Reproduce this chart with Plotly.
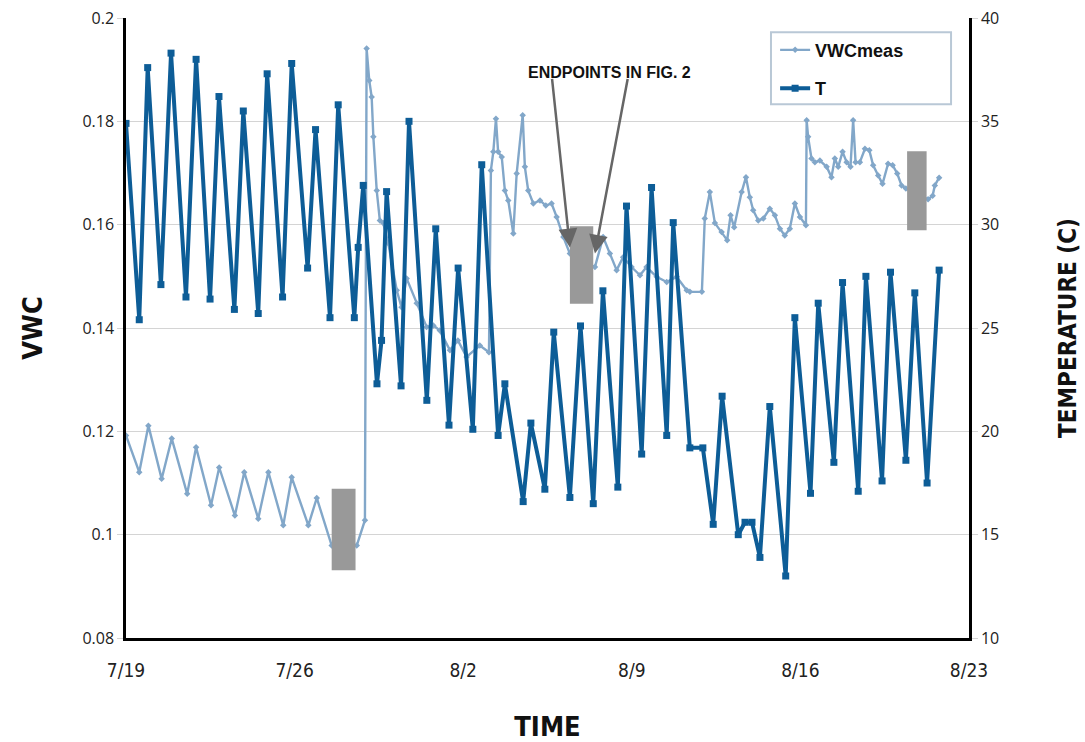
import pandas as pd
import plotly.graph_objects as go

# ---------------- data ----------------
base_date = pd.Timestamp("2014-07-19")

# Temperature series: day offset from 7/19 00:00, temperature (C)
t_day = [0.00, 0.55, 0.90, 1.45, 1.87, 2.49, 2.91, 3.49, 3.86, 4.50, 4.87, 5.49,
         5.86, 6.50, 6.88, 7.54, 7.87, 8.47, 8.81, 9.48, 9.64, 9.85, 10.42, 10.61,
         10.82, 11.42, 11.75, 12.49, 12.86, 13.41, 13.79, 14.40, 14.77, 15.45, 15.73,
         16.49, 16.81, 17.39, 17.76, 18.43, 18.87, 19.40, 19.80, 20.42, 20.78, 21.41,
         21.82, 22.45, 22.72, 23.41, 23.95, 24.38, 24.75, 25.42, 25.70, 25.99, 26.32,
         26.73, 27.39, 27.77, 28.42, 28.74, 29.39, 29.75, 30.40, 30.72, 31.39, 31.74,
         32.38, 32.75, 33.26, 33.76]
t_temp = [34.9, 25.4, 37.6, 27.1, 38.3, 26.5, 38.0, 26.4, 36.2, 25.9, 35.5, 25.7,
          37.3, 26.5, 37.8, 27.9, 34.6, 25.5, 35.8, 25.5, 28.9, 31.9, 22.3, 24.4,
          31.6, 22.2, 35.0, 21.5, 29.8, 20.3, 27.9, 20.1, 32.9, 19.8, 22.3,
          16.6, 20.4, 17.2, 24.8, 16.8, 25.1, 16.5, 26.8, 17.3, 30.9, 18.9,
          31.8, 19.8, 30.1, 19.2, 19.2, 15.5, 21.7, 15.0, 15.6, 15.6, 13.9,
          21.2, 13.0, 25.5, 17.0, 26.2, 18.5, 27.2, 17.1, 27.5, 17.6, 27.7,
          18.6, 26.7, 17.5, 27.8]

# Measured VWC series: day offset from 7/19 00:00, VWC
vwc_day = [0.00, 0.55, 0.93, 1.48, 1.90, 2.54, 2.91, 3.53, 3.87, 4.52, 4.91, 5.49,
           5.91, 6.53, 6.88, 7.57, 7.92, 8.54, 9.58, 9.92, 9.99, 10.10, 10.20, 10.27,
           10.41, 10.54, 10.68, 10.89, 11.24, 11.44, 11.65, 12.07, 12.48, 12.76, 13.03,
           13.45, 13.78, 14.14, 14.69, 15.07, 15.15, 15.25, 15.36, 15.45, 15.60, 15.73,
           15.87, 16.08, 16.22, 16.47, 16.56, 16.70, 16.91, 17.19, 17.43, 17.67, 17.88,
           18.16, 18.43, 19.47, 19.81, 20.09, 20.37, 20.64, 20.99, 21.34, 21.61, 22.03,
           22.45, 22.86, 23.28, 23.41, 23.91, 24.03, 24.24, 24.45, 24.73, 24.96, 25.10,
           25.25, 25.56, 25.74, 25.90, 26.04, 26.25, 26.46, 26.73, 26.94, 27.15, 27.35,
           27.56, 27.77, 27.98, 28.23, 28.26, 28.32, 28.46, 28.60, 28.81, 29.09, 29.29,
           29.43, 29.57, 29.75, 29.92, 30.08, 30.19, 30.29, 30.47, 30.68, 30.86, 31.02,
           31.23, 31.41, 31.64, 31.83, 32.02, 32.20, 32.38, 33.30, 33.49, 33.58, 33.76]
vwc_val = [0.1192, 0.1121, 0.1211, 0.1108, 0.1186, 0.1079, 0.1169, 0.1057, 0.1130, 0.1037, 0.1121, 0.1031,
           0.1121, 0.1018, 0.1111, 0.1018, 0.1071, 0.0979, 0.0979, 0.1028, 0.1941, 0.1879, 0.1847, 0.1770,
           0.1666, 0.1608, 0.1603, 0.1564, 0.1473, 0.1440, 0.1496, 0.1448, 0.1402, 0.1405, 0.1395,
           0.1357, 0.1376, 0.1344, 0.1366, 0.1353, 0.1705, 0.1741, 0.1805, 0.1741, 0.1731, 0.1666,
           0.1647, 0.1583, 0.1699, 0.1812, 0.1712, 0.1666, 0.1641, 0.1647, 0.1637, 0.1641, 0.1615,
           0.1576, 0.1544, 0.1518, 0.1576, 0.1544, 0.1512, 0.1537, 0.1518, 0.1502, 0.1518, 0.1499,
           0.1489, 0.1499, 0.1473, 0.1470, 0.1470, 0.1612, 0.1663, 0.1603, 0.1586, 0.1570, 0.1618,
           0.1595, 0.1663, 0.1692, 0.1653, 0.1628, 0.1608, 0.1612, 0.1631, 0.1618, 0.1592, 0.1579,
           0.1592, 0.1641, 0.1615, 0.1599, 0.1802, 0.1770, 0.1728, 0.1721, 0.1724, 0.1712, 0.1692,
           0.1728, 0.1712, 0.1741, 0.1721, 0.1712, 0.1802, 0.1721, 0.1721, 0.1747, 0.1744, 0.1715,
           0.1695, 0.1679, 0.1718, 0.1715, 0.1699, 0.1676, 0.1670, 0.1649, 0.1656, 0.1676, 0.1691]

# Gray endpoint windows: (start day, end day, VWC low, VWC high)
endpoint_windows = [(8.54, 9.53, 0.0931, 0.1089),
                    (18.43, 19.40, 0.1447, 0.1597),
                    (32.43, 33.24, 0.1589, 0.1742)]

x_tick_days = [0, 7, 14, 21, 28, 35]
x_tick_labels = ["7/19", "7/26", "8/2", "8/9", "8/16", "8/23"]
vwc_ticks = [0.08, 0.10, 0.12, 0.14, 0.16, 0.18, 0.20]
vwc_tick_labels = ["0.08", "0.1", "0.12", "0.14", "0.16", "0.18", "0.2"]
temp_ticks = [10, 15, 20, 25, 30, 35, 40]

# ---------------- figure ----------------
def to_time(days):
    return base_date + pd.to_timedelta(days, unit="D")

VWC_COLOR = "#82a7c9"
T_COLOR = "#0d5d97"
NARROW = "Liberation Sans Narrow, Arial Narrow, DejaVu Sans Condensed, sans-serif"
TICKFONT = "Open Sans, Lato, sans-serif"

fig = go.Figure()
fig.add_trace(go.Scatter(
    x=to_time(vwc_day), y=vwc_val, name="VWCmeas", mode="lines+markers",
    line=dict(color=VWC_COLOR, width=2.4),
    marker=dict(symbol="diamond", size=5, color=VWC_COLOR),
    legendgroup="a", yaxis="y"))
fig.add_trace(go.Scatter(
    x=to_time(t_day), y=t_temp, name="T", mode="lines+markers",
    line=dict(color=T_COLOR, width=4),
    marker=dict(symbol="square", size=7, color=T_COLOR),
    legendgroup="b", yaxis="y2"))

shapes = []
for d0, d1, v0, v1 in endpoint_windows:
    shapes.append(dict(type="rect", xref="x", yref="y",
                       x0=to_time(d0), x1=to_time(d1), y0=v0, y1=v1,
                       fillcolor="#999999", line=dict(width=0), layer="above"))
# legend frame
shapes.append(dict(type="rect", xref="paper", yref="paper",
                   x0=0.7651, x1=0.9787, y0=0.8608, y1=0.9769,
                   line=dict(color="#b9c8d6", width=2), fillcolor="rgba(0,0,0,0)"))

annotations = [
    dict(text="ENDPOINTS IN FIG. 2", xref="paper", yref="paper",
         x=(609 - 126) / 843, y=1 - (62 - 17.7) / 619.8, showarrow=False,
         font=dict(family="Liberation Sans, Arial, sans-serif", size=16,
                   color="#111", weight="bold")),
    dict(text="", xref="x", yref="y", x=to_time(18.43), y=0.1556,
         ax=-18, ay=-170, showarrow=True, arrowhead=2, arrowsize=1.5,
         arrowwidth=2.5, arrowcolor="#666666", standoff=0),
    dict(text="", xref="x", yref="y", x=to_time(19.47), y=0.1544,
         ax=33, ay=-176, showarrow=True, arrowhead=2, arrowsize=1.5,
         arrowwidth=2.5, arrowcolor="#666666", standoff=0),
]

fig.update_layout(
    width=1085, height=742,
    margin=dict(l=126, r=116, t=18, b=104, autoexpand=False),
    paper_bgcolor="white", plot_bgcolor="white",
    showlegend=True,
    legend=dict(x=0.770, y=0.978, xanchor="left", yanchor="top",
                bgcolor="rgba(0,0,0,0)", borderwidth=0,
                font=dict(family="Liberation Sans, Arial, sans-serif", size=18,
                          color="#111", weight="bold"),
                tracegroupgap=12, itemwidth=30),
    shapes=shapes, annotations=annotations,
    xaxis=dict(type="date", range=[to_time(0), to_time(35)],
               tickvals=to_time(x_tick_days), ticktext=x_tick_labels,
               showline=True, linecolor="black", linewidth=2.5, mirror=False,
               showgrid=False, zeroline=False, ticks="", ticklabelstandoff=13,
               tickfont=dict(family=NARROW, size=19, color="#222"),
               title=dict(text="<b>TIME</b>", standoff=40,
                          font=dict(family=NARROW, size=27, color="#111"))),
    yaxis=dict(range=[0.08, 0.2], tickvals=vwc_ticks, ticktext=vwc_tick_labels,
               showline=True, linecolor="black", linewidth=2.5,
               showgrid=True, gridcolor="#d4d4d4", gridwidth=1, zeroline=False,
               ticks="outside", ticklen=6, tickcolor="#d4d4d4",
               tickfont=dict(family=TICKFONT, size=16, color="#222"),
               title=dict(text="<b>VWC</b>", standoff=32,
                          font=dict(family=NARROW, size=27, color="#111"))),
    yaxis2=dict(range=[10, 40], tickvals=temp_ticks, overlaying="y", side="right",
                showline=True, linecolor="black", linewidth=2.5,
                showgrid=False, zeroline=False,
                ticks="outside", ticklen=6, tickcolor="#d4d4d4",
                tickfont=dict(family=TICKFONT, size=16, color="#222"),
                title=dict(text="<b>TEMPERATURE (C)</b>", standoff=61,
                           font=dict(family=NARROW, size=24, color="#111"))),
)

fig.write_html("out.html", config={"displayModeBar": False},
               post_script="document.body.style.margin='0px';")
